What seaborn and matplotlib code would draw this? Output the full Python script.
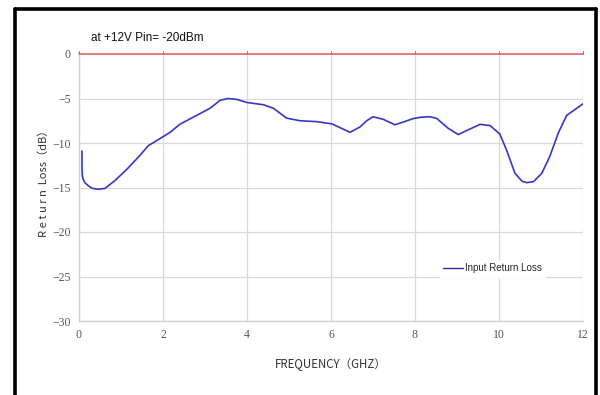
import matplotlib
matplotlib.use("Agg")
import matplotlib.pyplot as plt
import seaborn as sns
import pandas as pd
from matplotlib.lines import Line2D

# Input return loss sweep, at +12V, Pin = -20 dBm
freq_ghz = [0.070, 0.072, 0.08, 0.10, 0.15, 0.22, 0.32, 0.46, 0.62, 0.86, 1.13, 1.45,
            1.65, 1.93, 2.17, 2.40, 2.88, 3.12, 3.36, 3.55, 3.75, 4.00, 4.39, 4.63,
            4.80, 4.94, 5.26, 5.66, 6.02, 6.25, 6.45, 6.69, 6.85, 7.00, 7.25, 7.52,
            7.75, 7.96, 8.15, 8.36, 8.52, 8.79, 9.03, 9.23, 9.55, 9.79, 10.02, 10.18,
            10.38, 10.55, 10.66, 10.82, 11.02, 11.21, 11.41, 11.61, 11.85, 12.00]
return_loss_db = [-10.9, -13.0, -13.7, -14.1, -14.5, -14.8, -15.1, -15.2, -15.1, -14.2, -13.0, -11.4,
                  -10.3, -9.5, -8.8, -7.9, -6.7, -6.1, -5.2, -5.0, -5.1, -5.45, -5.7, -6.1,
                  -6.7, -7.2, -7.5, -7.6, -7.85, -8.35, -8.8, -8.2, -7.5, -7.05, -7.35, -7.95,
                  -7.6, -7.25, -7.1, -7.05, -7.25, -8.35, -9.05, -8.6, -7.9, -8.05, -9.0, -10.8,
                  -13.4, -14.3, -14.45, -14.35, -13.4, -11.5, -8.9, -6.9, -6.1, -5.6]

x_ticks = [0, 2, 4, 6, 8, 10, 12]
y_ticks = [0, -5, -10, -15, -20, -25, -30]

df = pd.DataFrame({"freq": freq_ghz, "rl": return_loss_db})

sns.set_style("white")
plt.rcParams["font.family"] = ["Liberation Sans", "DejaVu Sans"]

fig = plt.figure(figsize=(6.0, 3.95), dpi=100)
ax = fig.add_axes([79 / 600, 1 - 321 / 395, 504 / 600, 267 / 395])

sns.lineplot(data=df, x="freq", y="rl", ax=ax, color="#3636c8", linewidth=1.2,
             sort=False, estimator=None, legend=False)

ax.set_xlim(0, 12)
ax.set_ylim(-30, 0)
ax.set_xticks(x_ticks)
ax.set_yticks(y_ticks)
ax.grid(True, color="#d9d9d9", linewidth=0.9)
ax.set_axisbelow(True)

for side in ("top", "right"):
    ax.spines[side].set_visible(False)
for side in ("left", "bottom"):
    ax.spines[side].set_color("#cfcfcf")
    ax.spines[side].set_linewidth(0.9)

# red zero line with small upward ticks
ax.axhline(0, color="#e06060", linewidth=1.1, zorder=3, clip_on=False)
for xv in x_ticks:
    ax.plot([xv, xv], [0, 0.35], color="#b07070", linewidth=0.8, clip_on=False, zorder=3)

ax.tick_params(axis="both", length=0, labelsize=8.5, labelcolor="#555555", pad=6)
for lbl in ax.get_xticklabels() + ax.get_yticklabels():
    lbl.set_fontfamily(["Liberation Serif", "DejaVu Serif"])

ax.set_xlabel("FREQUENCY（GHZ）", fontsize=8.3, color="#333333", labelpad=12,
              fontfamily=["Noto Sans CJK JP", "DejaVu Sans"])
ax.set_ylabel("R e t u r n  Loss（dB）", fontsize=8.0, color="#333333",
              fontfamily=["Noto Sans CJK JP", "DejaVu Sans"])
ax.yaxis.set_label_coords(-0.06, 0.525)

fig.text(91 / 600, 1 - 38 / 395, "at +12V Pin= -20dBm", fontsize=8.5,
         color="#111111", va="center", ha="left")

handle = Line2D([], [], color="#2a2a99", linewidth=1.0)
leg = ax.legend([handle], ["Input Return Loss"], loc="center left",
                bbox_to_anchor=(0.705, 0.197), frameon=True, fontsize=7,
                handlelength=2.0, handletextpad=0.3, borderpad=0.4)
leg.get_frame().set_facecolor("white")
leg.get_frame().set_edgecolor("white")
leg.get_frame().set_alpha(1.0)

# heavy black frame on left, top and right of the figure
for xs, ys in (([14.5, 14.5], [8.5, 395]), ([14.5, 595.5], [8.5, 8.5]), ([595.5, 595.5], [8.5, 395])):
    fig.add_artist(Line2D([x / 600 for x in xs], [1 - y / 395 for y in ys],
                          color="black", linewidth=2.6, transform=fig.transFigure))

fig.savefig("out.png", dpi=100, facecolor="white")
